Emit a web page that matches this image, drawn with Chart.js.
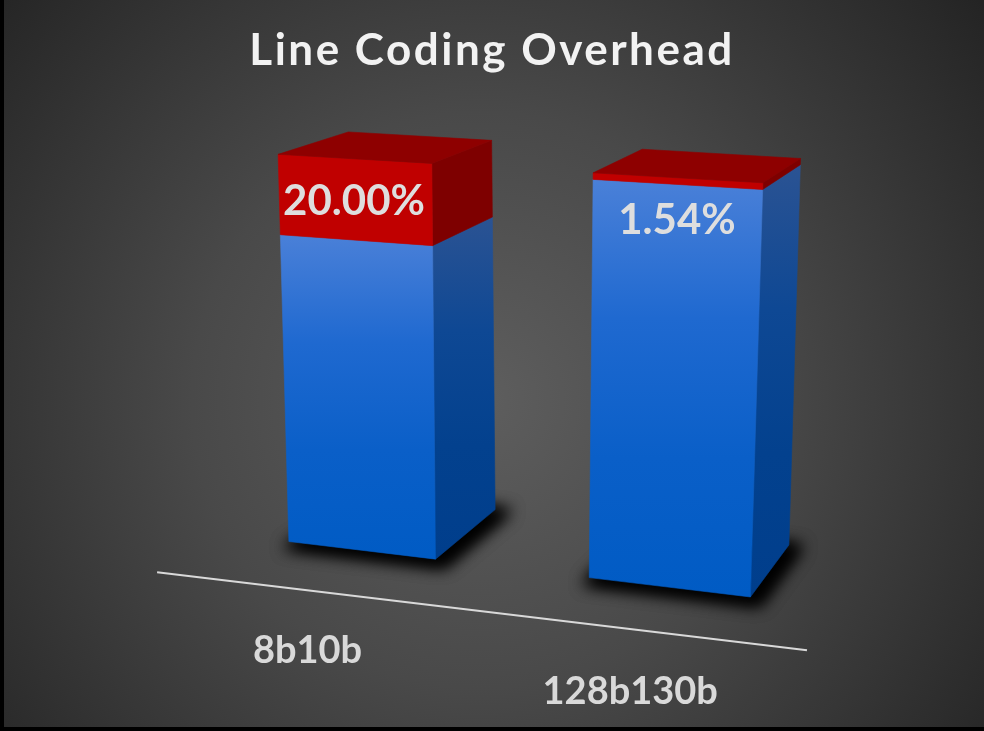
<!DOCTYPE html>
<html>
<head>
<meta charset="utf-8">
<title>Line Coding Overhead</title>
<script src="https://cdn.jsdelivr.net/npm/chart.js@4.4.1/dist/chart.umd.min.js"></script>
<style>
  html, body { margin: 0; padding: 0; background: #000; }
  canvas { display: block; }
</style>
</head>
<body>
<canvas id="chart" width="984" height="731"></canvas>
<script>
// ---- data ----
const categories = ['8b10b', '128b130b'];
const payloadPct = [80.00, 98.46];   // share of line bits carrying data
const overheadPct = [20.00, 1.54];   // share of line bits spent on coding
const valueMin = 0;
const valueMax = 100;
const chartTitle = 'Line Coding Overhead';

// ---- view: a perspective camera over the flat chart area ----
// The flat chart area (unit square u,v) lands on this quadrilateral: TL, TR, BR, BL.
const PLANE_QUAD = [[204, 150], [851, 188], [834, 607], [218, 533]];
const DEPTH_VP = [1325, -180];   // vanishing point of the depth axis
const BAR_DEPTH = 0.067;         // how far toward the vanishing point a bar's back sits
const FLOOR_FRONT = -0.055;      // axis line sits in front of the bars
const LABEL_PLANE = { v: 1.15, t: -0.057 };

const COLORS = {
  payload: {
    front: ['#4A80D8', '#1F69D0', '#0A5FC8', '#005BC4'],
    side: ['#2B5393', '#0E4894', '#03418E', '#003E8C']
  },
  overhead: { front: ['#C00000', '#C00000'], side: ['#7E0000', '#7E0000'] },
  top: '#8E0000',
  axis: '#D9D9D9',
  title: '#F2F2F2',
  valueLabel: '#DEDEDE',
  catLabel: '#D9D9D9'
};
const FONT = 'Lato, "Open Sans", sans-serif';

function squareToQuad(q) {
  const [[x0, y0], [x1, y1], [x2, y2], [x3, y3]] = q;
  const sx = x0 - x1 + x2 - x3, sy = y0 - y1 + y2 - y3;
  const dx1 = x1 - x2, dx2 = x3 - x2, dy1 = y1 - y2, dy2 = y3 - y2;
  const det = dx1 * dy2 - dx2 * dy1;
  const g = (sx * dy2 - dx2 * sy) / det;
  const h = (dx1 * sy - sx * dy1) / det;
  const a = x1 - x0 + g * x1, b = x3 - x0 + h * x3, c = x0;
  const d = y1 - y0 + g * y1, e = y3 - y0 + h * y3, f = y0;
  return (u, v) => {
    const w = g * u + h * v + 1;
    return [(a * u + b * v + c) / w, (d * u + e * v + f) / w];
  };
}
const project = squareToQuad(PLANE_QUAD);
const toward = (p, t) => [p[0] + t * (DEPTH_VP[0] - p[0]), p[1] + t * (DEPTH_VP[1] - p[1])];

function poly(ctx, pts) {
  ctx.beginPath();
  ctx.moveTo(pts[0][0], pts[0][1]);
  for (let i = 1; i < pts.length; i++) ctx.lineTo(pts[i][0], pts[i][1]);
  ctx.closePath();
}
function vGrad(ctx, y0, y1, stops) {
  const gr = ctx.createLinearGradient(0, y0, 0, y1);
  stops.forEach((c, i) => gr.addColorStop(i / (stops.length - 1), c));
  return gr;
}

const bar3d = {
  id: 'bar3d',
  beforeDraw(chart) {
    const { ctx, width, height } = chart;
    ctx.save();
    const bg = ctx.createRadialGradient(480, 400, 0, 480, 400, 640);
    bg.addColorStop(0, '#5E5E5E');
    bg.addColorStop(0.45, '#494949');
    bg.addColorStop(1, '#242424');
    ctx.fillStyle = bg;
    ctx.fillRect(0, 0, width, height);
    ctx.fillStyle = '#000';
    ctx.fillRect(0, 0, 4, height);
    ctx.fillRect(0, height - 4, width, 4);
    ctx.restore();
  },
  beforeDatasetsDraw(chart) {
    const { ctx, chartArea: ca } = chart;
    const uOf = x => (x - ca.left) / (ca.right - ca.left);
    const vOf = y => (y - ca.top) / (ca.bottom - ca.top);
    const metas = chart.data.datasets.map((_, i) => chart.getDatasetMeta(i));
    const styles = [COLORS.payload, COLORS.overhead];

    // floor axis line, in front of the bars
    ctx.save();
    const a0 = toward(project(0, 1), FLOOR_FRONT);
    const a1 = toward(project(1, 1), FLOOR_FRONT);
    ctx.strokeStyle = COLORS.axis;
    ctx.lineWidth = 2;
    ctx.beginPath();
    ctx.moveTo(a0[0], a0[1]);
    ctx.lineTo(a1[0], a1[1]);
    ctx.stroke();
    ctx.restore();

    categories.forEach((_, i) => {
      const base = metas[0].data[i];
      const u0 = uOf(base.x - base.width / 2), u1 = uOf(base.x + base.width / 2);
      const vBase = vOf(base.base);

      // soft shadow around the footprint
      const pad = 0.012;
      const fp = [project(u0 - pad, vBase + 0.012), project(u1 + pad, vBase + 0.012)];
      fp.push(toward(fp[1], BAR_DEPTH + 0.01), toward(fp[0], BAR_DEPTH + 0.01));
      ctx.save();
      ctx.filter = 'blur(8px)';
      ctx.fillStyle = 'rgba(0,0,0,0.95)';
      poly(ctx, fp.map(p => [p[0] + 1, p[1] + 3]));
      ctx.fill();
      ctx.fill();
      ctx.restore();

      let topV = vBase;
      metas.forEach((meta, di) => {
        const el = meta.data[i];
        const vT = vOf(el.y), vB = vOf(el.base);
        const tl = project(u0, vT), tr = project(u1, vT);
        const br = project(u1, vB), bl = project(u0, vB);
        const trb = toward(tr, BAR_DEPTH), brb = toward(br, BAR_DEPTH);
        ctx.save();
        poly(ctx, [tr, trb, brb, br]);
        ctx.fillStyle = vGrad(ctx, Math.min(trb[1], tr[1]), br[1], styles[di].side);
        ctx.fill();
        ctx.lineWidth = 0.6;
        ctx.strokeStyle = ctx.fillStyle;
        ctx.stroke();
        poly(ctx, [tl, tr, br, bl]);
        ctx.fillStyle = vGrad(ctx, tl[1], br[1], styles[di].front);
        ctx.fill();
        ctx.strokeStyle = ctx.fillStyle;
        ctx.stroke();
        ctx.restore();
        topV = Math.min(topV, vT);
      });

      // lid of the stack
      const tl = project(u0, topV), tr = project(u1, topV);
      ctx.save();
      poly(ctx, [tl, tr, toward(tr, BAR_DEPTH), toward(tl, BAR_DEPTH)]);
      ctx.fillStyle = COLORS.top;
      ctx.fill();
      ctx.strokeStyle = COLORS.top;
      ctx.lineWidth = 0.6;
      ctx.stroke();
      ctx.restore();
    });
    return false;
  },
  afterDraw(chart) {
    const { ctx, chartArea: ca } = chart;
    const uOf = x => (x - ca.left) / (ca.right - ca.left);
    const vOf = y => (y - ca.top) / (ca.bottom - ca.top);
    ctx.save();

    // title
    ctx.fillStyle = COLORS.title;
    ctx.font = 'bold 44px ' + FONT;
    ctx.textBaseline = 'alphabetic';
    ctx.textAlign = 'left';
    if ('letterSpacing' in ctx) ctx.letterSpacing = '2.5px';
    const tw = ctx.measureText(chartTitle).width;
    ctx.fillText(chartTitle, chart.width / 2 - tw / 2, 65);
    if ('letterSpacing' in ctx) ctx.letterSpacing = '0px';

    // overhead value labels, just inside the top of each stack
    const over = chart.getDatasetMeta(1);
    ctx.textAlign = 'center';
    ctx.textBaseline = 'middle';
    ctx.font = 'bold 42px ' + FONT;
    ctx.fillStyle = COLORS.valueLabel;
    over.data.forEach((el, i) => {
      const p = project(uOf(el.x), vOf(el.y));
      ctx.fillText(overheadPct[i].toFixed(2) + '%', p[0], p[1] + 43);
    });

    // category labels on the floor in front of the axis
    const xs = chart.scales.x;
    ctx.font = 'bold 38px ' + FONT;
    ctx.fillStyle = COLORS.catLabel;
    categories.forEach((c, i) => {
      const p = toward(project(uOf(xs.getPixelForValue(i)), LABEL_PLANE.v), LABEL_PLANE.t);
      ctx.fillText(c, p[0], p[1]);
    });
    ctx.restore();
  }
};

new Chart(document.getElementById('chart'), {
  type: 'bar',
  data: {
    labels: categories,
    datasets: [
      { label: 'Payload', data: payloadPct, backgroundColor: COLORS.payload.front[1] },
      { label: 'Overhead', data: overheadPct, backgroundColor: COLORS.overhead.front[0] }
    ]
  },
  options: {
    responsive: false,
    animation: false,
    devicePixelRatio: 1,
    layout: { padding: { left: 160, right: 184, top: 150, bottom: 171 } },
    datasets: { bar: { categoryPercentage: 0.5, barPercentage: 1 } },
    scales: {
      x: { stacked: true, display: false },
      y: { stacked: true, display: false, min: valueMin, max: valueMax }
    },
    plugins: {
      legend: { display: false },
      title: { display: false },
      tooltip: { enabled: false }
    }
  },
  plugins: [bar3d]
});
</script>
</body>
</html>
